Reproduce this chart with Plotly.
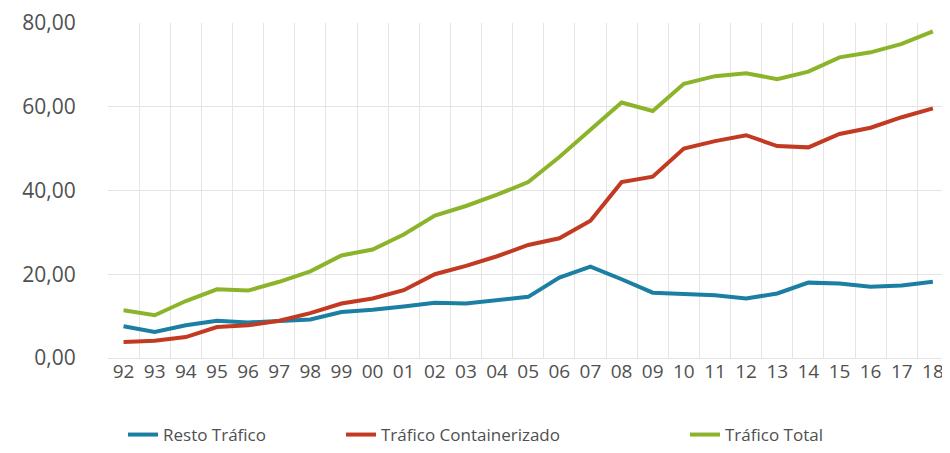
import plotly.graph_objects as go

years = ["92","93","94","95","96","97","98","99","00","01","02","03","04","05",
         "06","07","08","09","10","11","12","13","14","15","16","17","18"]
resto = [7.6, 6.2, 7.8, 8.9, 8.5, 8.8, 9.2, 11.0, 11.5, 12.3, 13.2, 13.0, 13.9, 14.6,
         19.2, 21.8, 18.8, 15.6, 15.3, 15.0, 14.2, 15.4, 18.0, 17.8, 17.0, 17.3, 18.2]
contain = [3.8, 4.1, 5.0, 7.4, 7.8, 8.9, 10.7, 13.0, 14.2, 16.2, 20.0, 22.0, 24.3, 27.0,
           28.6, 32.8, 42.0, 43.3, 50.0, 51.8, 53.2, 50.6, 50.3, 53.5, 55.0, 57.5, 59.6]
total = [11.4, 10.2, 13.6, 16.4, 16.1, 18.2, 20.7, 24.5, 25.9, 29.5, 34.0, 36.3, 39.0, 42.0,
         48.0, 54.5, 61.0, 59.0, 65.5, 67.3, 68.0, 66.6, 68.4, 71.8, 73.0, 75.0, 78.0]
names = ["Resto Tráfico", "Tráfico Containerizado", "Tráfico Total"]
colors = ["#1b7ea3", "#c13a21", "#8cb42b"]
ytick_vals = [0, 20, 40, 60, 80]
ytick_text = ["0,00", "20,00", "40,00", "60,00", "80,00"]

fig = go.Figure()
series = [resto, contain, total]
legends = ["legend", "legend2", "legend3"]
for s, n, c, lg in zip(series, names, colors, legends):
    fig.add_trace(go.Scatter(x=years, y=s, name=n, mode="lines", showlegend=True,
                             line=dict(color=c, width=4), legend=lg))

font_fam = "Open Sans, sans-serif"
txt = "#505050"
fig.update_layout(
    width=942, height=445,
    margin=dict(l=100, r=0, t=15, b=93),
    plot_bgcolor="white", paper_bgcolor="white",
    showlegend=True,
    font=dict(family=font_fam, color=txt),
    xaxis=dict(type="category", tickson="boundaries", showgrid=True,
               gridcolor="#e4e4e4", gridwidth=1, ticks="", showline=False,
               tickangle=0, range=[-0.5, 26.55], tickfont=dict(size=19, color=txt)),
    yaxis=dict(range=[0, 80], tickvals=ytick_vals, ticktext=ytick_text,
               showgrid=True, gridcolor="#e4e4e4", zeroline=True,
               zerolinecolor="#e4e4e4", zerolinewidth=1,
               ticks="outside", ticklen=27, tickcolor="rgba(0,0,0,0)",
               tickfont=dict(size=21, color=txt)),
)
leg_common = dict(orientation="h", yanchor="middle", y=-0.23, xanchor="left",
                  font=dict(size=17, color=txt), itemwidth=30, bgcolor="rgba(0,0,0,0)",
                  visible=True)
xs = [123, 341, 685]
for lg, px in zip(legends, xs):
    fig.update_layout({lg: dict(leg_common, x=(px - 108) / 842)})

fig.write_html("out.html")
